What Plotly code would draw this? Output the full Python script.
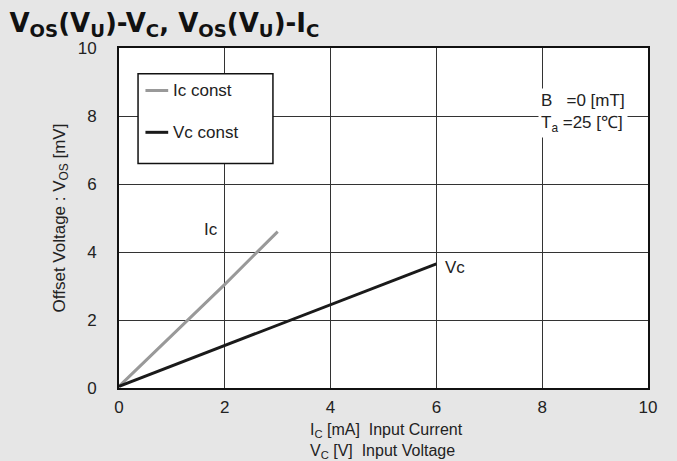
import plotly.graph_objects as go

# Offset voltage vs input current (Ic const) and vs input voltage (Vc const)
ic_x = [0, 1, 2, 3]
ic_y = [0.05, 1.55, 3.05, 4.6]
vc_x = [0, 2, 4, 6]
vc_y = [0.05, 1.25, 2.45, 3.65]

x_ticks = [0, 2, 4, 6, 8, 10]
y_ticks = [0, 2, 4, 6, 8, 10]

FONT = "Liberation Sans, Arial, sans-serif"
BG = "#e6e6e6"

fig = go.Figure()

fig.add_trace(go.Scatter(x=ic_x, y=ic_y, mode='lines',
                         line=dict(color='#999999', width=3),
                         showlegend=False))
fig.add_trace(go.Scatter(x=vc_x, y=vc_y, mode='lines',
                         line=dict(color='#1a1a1a', width=3),
                         showlegend=False))

fig.update_layout(
    width=677, height=461,
    paper_bgcolor=BG,
    plot_bgcolor='white',
    margin=dict(l=119, r=29, t=48, b=73),
    font=dict(family=FONT, size=17, color='#222222'),
    title=dict(text="<b>V<sub>OS</sub>(V<sub>U</sub>)-V<sub>C</sub>, "
                    "V<sub>OS</sub>(V<sub>U</sub>)-I<sub>C</sub></b>",
               x=0.014, xanchor='left', y=0.97, yanchor='top',
               font=dict(family="DejaVu Sans, sans-serif", size=26, color='#111111')),
    xaxis=dict(range=[0, 10], tickvals=x_ticks, showgrid=True,
               gridcolor='#333333', gridwidth=1, zeroline=False,
               showline=True, linecolor='#111111', linewidth=2, mirror=True,
               ticks='', ticklabelstandoff=3),
    yaxis=dict(range=[0, 10], tickvals=y_ticks, showgrid=True,
               gridcolor='#333333', gridwidth=1, zeroline=False,
               showline=True, linecolor='#111111', linewidth=2, mirror=True,
               ticks='', ticklabelstandoff=17,
               title=dict(text="Offset Voltage : V<sub>OS</sub> [mV]",
                          font=dict(size=17), standoff=8)),
)

# legend box drawn by hand
fig.add_shape(type='rect', xref='x', yref='y', x0=0.36, x1=2.91, y0=6.6, y1=9.24,
              fillcolor='white', line=dict(color='#111111', width=1.5), layer='above')
fig.add_shape(type='line', xref='x', yref='y', x0=0.5, x1=0.93, y0=8.75, y1=8.75,
              line=dict(color='#999999', width=3), layer='above')
fig.add_shape(type='line', xref='x', yref='y', x0=0.5, x1=0.93, y0=7.52, y1=7.52,
              line=dict(color='#1a1a1a', width=3), layer='above')
fig.add_annotation(x=0.98, y=8.75, xref='x', yref='y', text="Ic const",
                   showarrow=False, xanchor='left', font=dict(size=17))
fig.add_annotation(x=0.98, y=7.52, xref='x', yref='y', text="Vc const",
                   showarrow=False, xanchor='left', font=dict(size=17))

# curve labels
fig.add_annotation(x=1.73, y=4.65, text="Ic", showarrow=False, font=dict(size=17))
fig.add_annotation(x=6.35, y=3.53, text="Vc", showarrow=False, font=dict(size=17))

# conditions
fig.add_annotation(x=8.78, y=8.1, xref='x', yref='y',
                   text="B   =0 [mT]<br>T<sub>a</sub> =25 [℃]",
                   showarrow=False, align='left', bgcolor='white',
                   borderpad=2, font=dict(size=17))

# x axis title (two left-aligned lines)
fig.add_annotation(x=0.505, y=-0.092, xref='paper', yref='paper',
                   text="I<sub>C</sub> [mA]  Input Current<br>V<sub>C</sub> [V]  Input Voltage",
                   showarrow=False, align='left', yanchor='top', font=dict(size=16))

fig.write_html("out.html", config={'displayModeBar': False},
               post_script="document.body.style.margin='0';")
